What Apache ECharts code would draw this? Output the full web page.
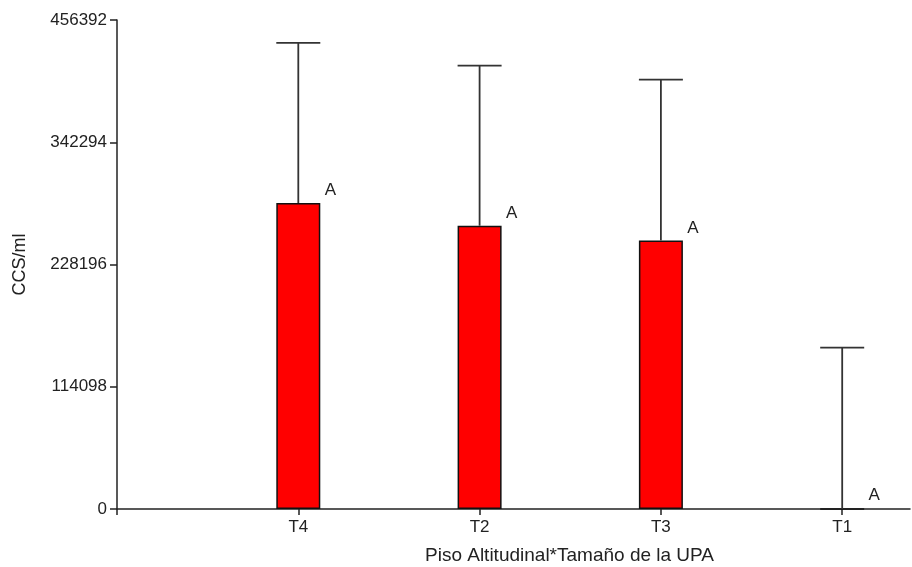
<!DOCTYPE html>
<html>
<head>
<meta charset="utf-8">
<script src="https://cdn.jsdelivr.net/npm/echarts@6/dist/echarts.min.js"></script>
<style>
  html, body { margin: 0; padding: 0; background: #fff; }
  #chart { width: 912px; height: 567px; }
</style>
</head>
<body>
<div id="chart"></div>
<script>
// Treatments in plotting order
var categories = ['T4', 'T2', 'T3', 'T1'];
// Mean CCS/ml per treatment
var means = [285600, 264400, 250700, 0];
// Upper end of the error bar (mean + error)
var upper = [435100, 413900, 400800, 150700];
// Significance letters
var letters = ['A', 'A', 'A', 'A'];
// Y tick values
var yTicks = [0, 114098, 228196, 342294, 456392];

var FONT = 'Liberation Sans, Arial, sans-serif';
var BAR_W = 44;

var barData = categories.map(function (c, i) { return [i + 1, means[i]]; });
var errData = categories.map(function (c, i) { return [i + 1, means[i], upper[i]]; });

var chart = echarts.init(document.getElementById('chart'), null, { renderer: 'canvas' });

chart.setOption({
  animation: false,
  backgroundColor: '#ffffff',
  grid: { left: 117, right: 2, top: 20, bottom: 58, containLabel: false, outerBoundsMode: 'none' },
  xAxis: {
    type: 'value',
    min: 0,
    max: 4.374,
    interval: 1,
    name: 'Piso Altitudinal*Tamaño de la UPA',
    nameLocation: 'middle',
    nameGap: 37,
    nameTextStyle: { fontFamily: FONT, fontSize: 19, color: '#222', padding: [0, 0, 0, 112] },
    axisLine: { show: true, lineStyle: { color: '#222', width: 1.5 } },
    axisTick: { show: true, length: 6, lineStyle: { color: '#222', width: 1.5 }, customValues: [0, 1, 2, 3, 4] },
    axisLabel: {
      fontFamily: FONT, fontSize: 17, color: '#222', margin: 10,
      customValues: [1, 2, 3, 4],
      formatter: function (v) { return categories[Math.round(v) - 1] || ''; }
    },
    splitLine: { show: false }
  },
  yAxis: {
    type: 'value',
    min: yTicks[0],
    max: yTicks[yTicks.length - 1],
    interval: yTicks[1] - yTicks[0],
    name: 'CCS/ml',
    nameLocation: 'middle',
    nameGap: 88,
    nameRotate: 90,
    nameTextStyle: { fontFamily: FONT, fontSize: 18, color: '#222' },
    axisLine: { show: true, lineStyle: { color: '#222', width: 1.5 } },
    axisTick: { show: true, inside: false, length: 7, lineStyle: { color: '#222', width: 1.5 } },
    axisLabel: {
      fontFamily: FONT, fontSize: 17, color: '#222', margin: 10,
      formatter: function (v) { return String(v); }
    },
    splitLine: { show: false }
  },
  series: [
    {
      type: 'bar',
      data: barData,
      barWidth: BAR_W,
      itemStyle: { color: '#ff0000', borderColor: '#111', borderWidth: 1.5 },
      label: {
        show: true,
        position: 'top',
        distance: 4,
        offset: [32, 0],
        fontFamily: FONT,
        fontSize: 17,
        color: '#222',
        formatter: function (p) { return letters[p.dataIndex]; }
      },
      z: 2
    },
    {
      type: 'custom',
      data: errData,
      z: 3,
      renderItem: function (params, api) {
        var x = api.value(0);
        var lo = api.coord([x, api.value(1)]);
        var hi = api.coord([x, api.value(2)]);
        var half = BAR_W / 2;
        var style = { stroke: '#333', lineWidth: 1.8 };
        return {
          type: 'group',
          children: [
            { type: 'line', shape: { x1: lo[0], y1: lo[1], x2: hi[0], y2: hi[1] }, style: style },
            { type: 'line', shape: { x1: hi[0] - half, y1: hi[1], x2: hi[0] + half, y2: hi[1] }, style: style }
          ]
        };
      }
    }
  ]
});
</script>
</body>
</html>
